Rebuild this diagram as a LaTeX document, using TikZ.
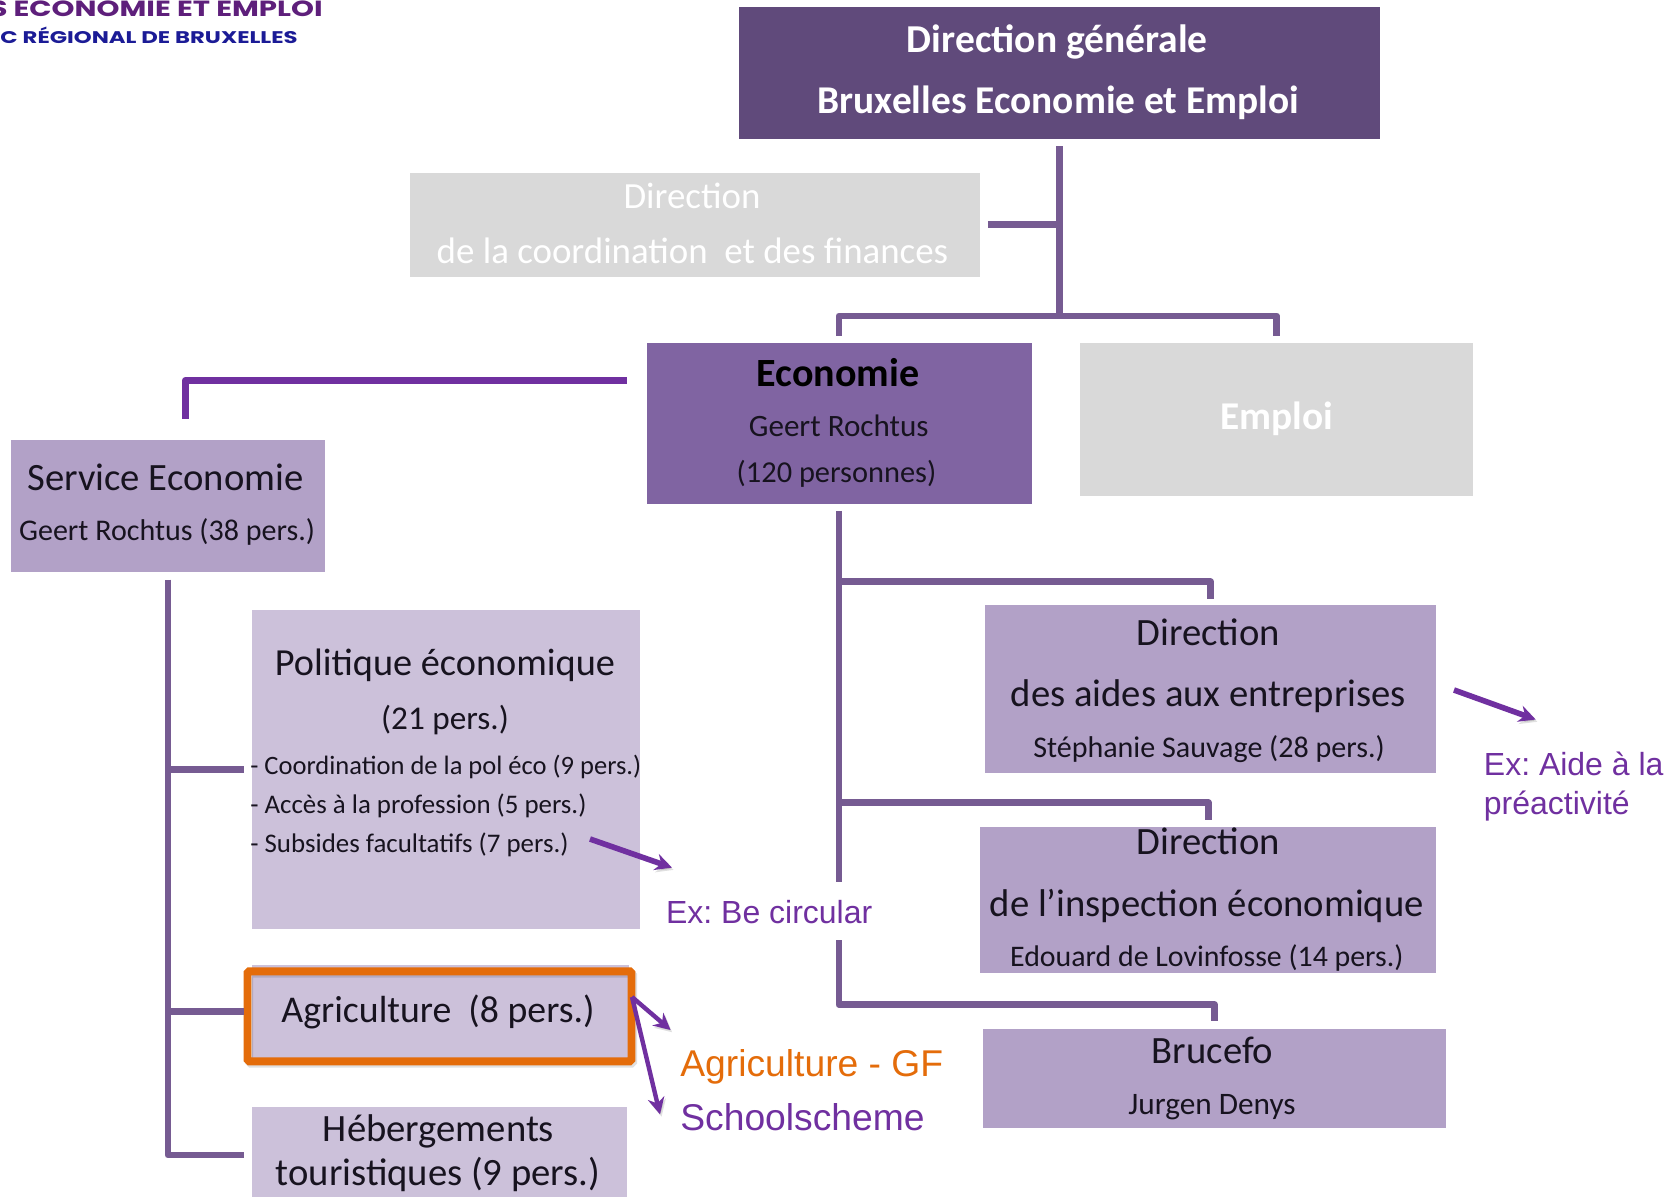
\documentclass[tikz,border=0pt]{standalone}
\usepackage{fontspec}
\setmainfont{Carlito}
\newfontfamily\arialf{Liberation Sans}
\newfontfamily\logof{Poppins}
\usetikzlibrary{arrows.meta,calc}
\definecolor{dgfill}{HTML}{604A7B}
\definecolor{ecofill}{HTML}{8064A2}
\definecolor{midfill}{HTML}{B2A1C7}
\definecolor{lightfill}{HTML}{CCC1DA}
\definecolor{grayfill}{HTML}{D9D9D9}
\definecolor{connc}{HTML}{765B92}
\definecolor{brightp}{HTML}{7030A0}
\definecolor{orangec}{HTML}{E46C0A}
\definecolor{inktxt}{HTML}{17131F}
\definecolor{logoa}{HTML}{5E1F7B}
\definecolor{logob}{HTML}{1B1B96}
\newcommand\fs[1]{\fontsize{#1}{#1}\selectfont}
\frenchspacing
\tikzset{
  x=0.02cm,y=-0.02cm,
  sz/.style 2 args={minimum width=#1*0.02cm,minimum height=#2*0.02cm,inner sep=0pt,outer sep=0pt},
  dgbox/.style={fill=dgfill,draw=none},
  ecobox/.style={fill=ecofill,draw=none},
  midbox/.style={fill=midfill,draw=none},
  lightbox/.style={fill=lightfill,draw=none},
  graybox/.style={fill=grayfill,draw=none},
  txt/.style={anchor=base,inner sep=0pt,text=inktxt},
  wtxt/.style={anchor=base,inner sep=0pt,text=white},
  ltxt/.style={anchor=base west,inner sep=0pt,text=brightp,font=\arialf\fs{18.2}},
  conn/.style={draw=connc,line width=3.9pt,line join=round},
  connb/.style={draw=brightp,line width=4pt,line join=round},
  softshade/.style={preaction={draw=black,opacity=.12,transform canvas={xshift=.9pt,yshift=-1.3pt}}},
  arr/.style={draw=brightp,softshade,-{Stealth[length=9.5pt,width=9.5pt]}},
}
\begin{document}
\begin{tikzpicture}
\path[use as bounding box,clip] (0,0) rectangle (1674,1197);
\fill[white] (0,0) rectangle (1674,1197);

% boxes
\node[dgbox,sz={641}{131.5}] (dg) at (1059.7,72.8) {};
\node[graybox,sz={570}{104.4}] (coord) at (695.4,224.8) {};
\node[ecobox,sz={385}{160.6}] (eco) at (839,423.3) {};
\node[graybox,sz={392.6}{153.4}] (emp) at (1276.7,419.7) {};
\node[midbox,sz={314}{131.6}] (serv) at (168,505.8) {};
\node[lightbox,sz={387.8}{318.8}] (pol) at (445.7,769.8) {};
\node[lightbox,sz={377.4}{92.5}] (agr) at (440.7,1011.7) {};
\node[lightbox,sz={374.7}{96.3}] (heb) at (439.3,1155) {};
\node[midbox,sz={451}{168}] (aid) at (1210.5,689.4) {};
\node[midbox,sz={455.6}{145.8}] (ins) at (1208.2,899.9) {};
\node[midbox,sz={463}{99.3}] (bru) at (1214.5,1078.3) {};
\node[draw=orangec,softshade,line width=4.5pt,rounded corners=1pt,sz={384}{90}] (agrframe) at (439.5,1016.3) {};

% junction and free-end coordinates
\coordinate (j1) at (1059.7,316);
\coordinate (ecol) at (646.6,380.4);
\coordinate (servt) at (185.3,440);
\coordinate (ecob) at (839,1004.6);
\coordinate (ja) at (839,581.7);
\coordinate (ji) at (839,802.5);
\coordinate (a1s) at (590,839);
\coordinate (a1e) at (672,867.6);
\coordinate (a2s) at (632,997);
\coordinate (a2e) at (670.6,1030);
\coordinate (a3e) at (660,1114.4);
\coordinate (a4s) at (1454,690);
\coordinate (a4e) at (1535.7,719.5);

% connectors
\draw[conn,shorten <=4.3pt] (dg.south) -- (j1);
\draw[conn,shorten <=4.3pt] (coord.east) -- (coord.east -| j1);
\draw[conn,shorten <=4.2pt,shorten >=4.2pt] (eco.north) |- (j1) -| (emp.north);
\draw[connb,shorten <=11.4pt,shorten >=12pt] (ecol) -| (servt);
\draw[conn,shorten <=4.2pt,shorten >=4.2pt] (eco.south) -- (ecob) -| (bru.north);
\draw[conn,shorten >=3.4pt] (ja) -| (aid.north);
\draw[conn,shorten >=4.2pt] (ji) -| (ins.north);
\draw[conn,shorten <=4.5pt,shorten >=4.5pt] (serv.south) -- (serv.south |- heb.west) -- (heb.west);
\draw[conn,shorten >=4.5pt] (serv.south |- pol.west) -- (pol.west);
\draw[conn,shorten >=4.5pt] (serv.south |- agr.west) -- (agr.west);

\draw[arr,line width=3.2pt] (a1s) -- (a1e);
\draw[arr,line width=2.5pt] (a2s) -- (a2e);
\draw[arr,line width=2.5pt] (a2s) -- (a3e);
\draw[arr,line width=3.2pt] (a4s) -- (a4e);

% logo
\node[anchor=base east,inner sep=0pt,text=logoa,font=\logof\bfseries\fs{12.5}] (logo1) at (323,16) {\scalebox{1.33}[1]{S ÉCONOMIE ET EMPLOI}};
\node[anchor=base east,inner sep=0pt,text=logob,font=\logof\bfseries\fs{9.6}] (logo2) at (298,43) {\scalebox{1.35}[1]{C RÉGIONAL DE BRUXELLES}};

% box texts
\node[wtxt,font=\bfseries\fs{22.5}] (t1) at (1057.4,52.5) {Direction générale};
\node[wtxt,font=\bfseries\fs{22.4}] (t2) at (1058.5,113.7) {Bruxelles Economie et Emploi};
\node[wtxt,font=\fs{21}] (t3) at (692,208.7) {Direction};
\node[wtxt,font=\fs{21}] (t4) at (692.5,263.5) {de la coordination ~et des finances};
\node[txt,text=black,font=\bfseries\fs{22.8}] (t5) at (838,386.5) {Economie};
\node[txt,font=\fs{17.7}] (t6) at (838.7,436) {Geert Rochtus};
\node[txt,font=\fs{17.3}] (t7) at (836.5,482) {(120 personnes)};
\node[wtxt,font=\bfseries\fs{22.4}] (t8) at (1276.5,429.7) {Emploi};
\node[txt,font=\fs{22}] (t9) at (165.4,490) {Service Economie};
\node[txt,font=\fs{17.1}] (t10) at (167,540.6) {Geert Rochtus (38 pers.)};
\node[txt,font=\fs{21.8}] (t11) at (445,675.5) {Politique économique};
\node[txt,font=\fs{18.9}] (t12) at (445,729) {(21 pers.)};
\node[txt,anchor=base west,font=\fs{15.1}] (t13) at (250,774.8) {- Coordination de la pol éco (9 pers.)};
\node[txt,anchor=base west,font=\fs{15.3}] (t14) at (250,813.5) {- Accès à la profession (5 pers.)};
\node[txt,anchor=base west,font=\fs{15.3}] (t15) at (250,852.5) {- Subsides facultatifs (7 pers.)};
\node[txt,font=\fs{21.5}] (t16) at (438,1022) {Agriculture ~(8 pers.)};
\node[txt,font=\fs{22}] (t17) at (438.5,1141.7) {Hébergements};
\node[txt,font=\fs{22}] (t18) at (438,1185.7) {touristiques (9 pers.)};
\node[txt,font=\fs{22}] (t19) at (1208.4,645.7) {Direction};
\node[txt,font=\fs{22}] (t20) at (1208.4,706) {des aides aux entreprises};
\node[txt,font=\fs{17.1}] (t21) at (1209,757) {Stéphanie Sauvage (28 pers.)};
\node[txt,font=\fs{22}] (t22) at (1208.4,854.6) {Direction};
\node[txt,font=\fs{22}] (t23) at (1206.8,916) {de l’inspection économique};
\node[txt,font=\fs{17}] (t24) at (1206.8,966) {Edouard de Lovinfosse (14 pers.)};
\node[txt,font=\fs{22}] (t25) at (1212.6,1063) {Brucefo};
\node[txt,font=\fs{17.8}] (t26) at (1212,1114.6) {Jurgen Denys};

% annotations
\fill[white] (660,882) rectangle (875,940);
\node[ltxt] (n1) at (665.8,923.5) {Ex: Be circular};
\node[ltxt] (n2) at (1483.6,775) {Ex: Aide à la};
\node[ltxt] (n3) at (1483.6,814) {préactivité};
\node[ltxt,text=orangec,font=\arialf\fs{21.2}] (n4) at (680,1076.4) {Agriculture - GF};
\node[ltxt,font=\arialf\fs{21.2}] (n5) at (680,1130.7) {Schoolscheme};
\end{tikzpicture}
\end{document}
